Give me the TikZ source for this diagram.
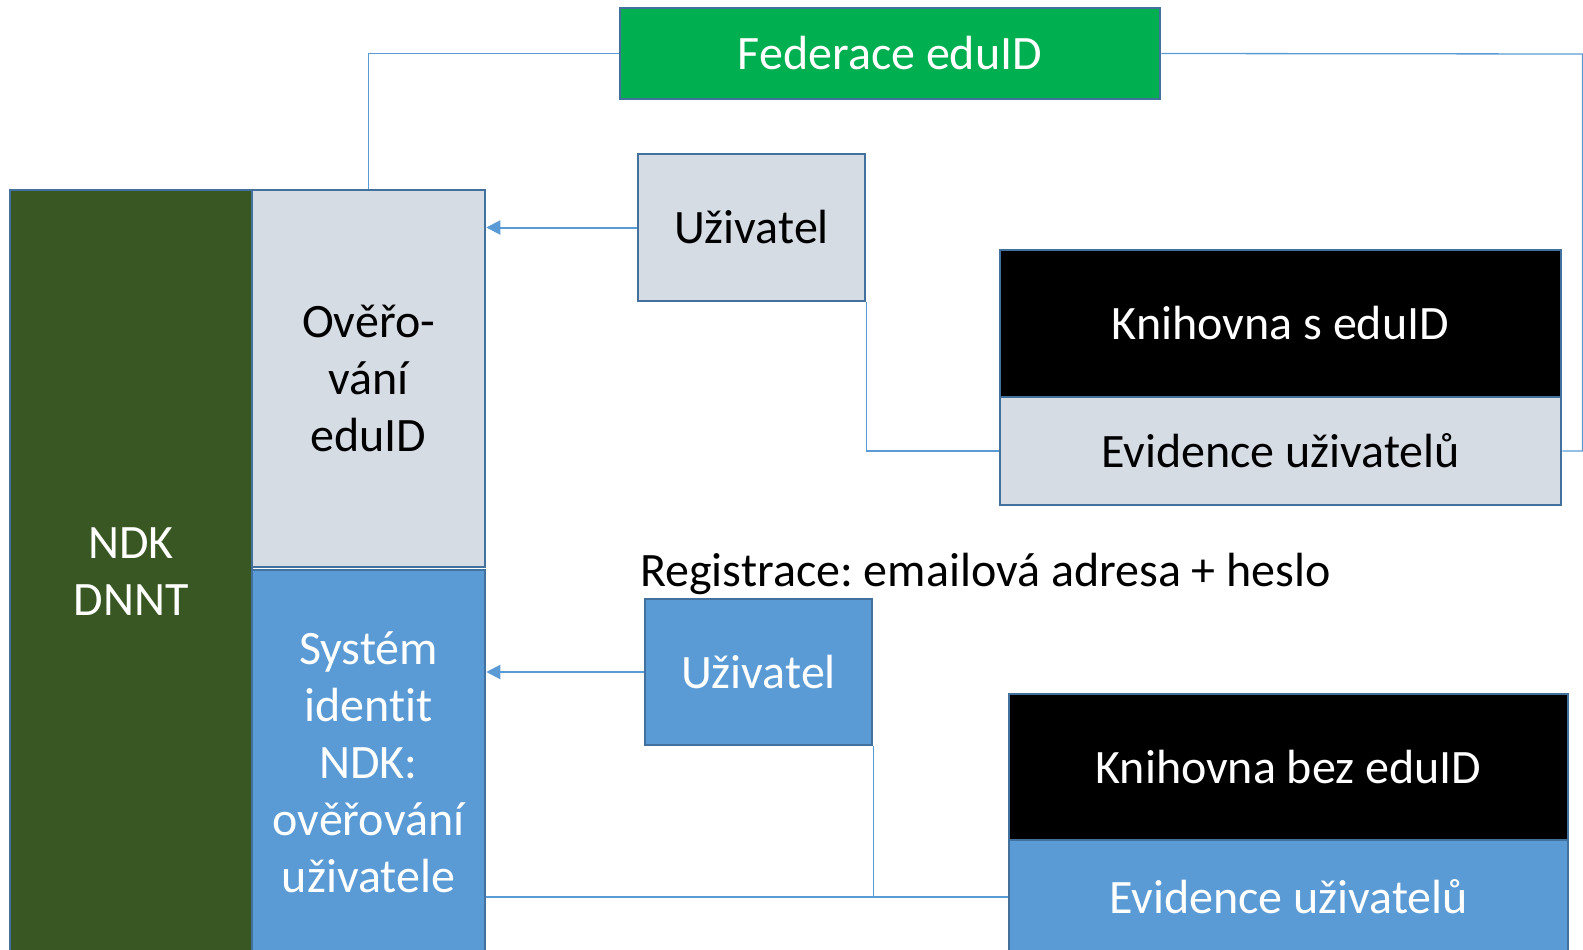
\documentclass[tikz,border=0pt]{standalone}
\usepackage{fontspec}
\setmainfont{Carlito}[Ligatures=NoCommon]
\frenchspacing
\usetikzlibrary{arrows.meta}
\definecolor{edugreen}{HTML}{00B050}
\definecolor{ndkgreen}{HTML}{385723}
\definecolor{boxgray}{HTML}{D6DCE4}
\definecolor{boxblue}{HTML}{5B9BD5}
\definecolor{boxline}{HTML}{41719C}
\begin{document}
\begin{tikzpicture}[x=1pt,y=-1pt]
		\tikzset{box/.style = {draw=boxline,line width=2.5pt,inner sep=0pt,align=center,
			font=\fontsize{48}{57}\selectfont}}
		\tikzset{edge/.style = {draw=boxblue,line width=1.3pt}}
		\tikzset{arrowedge/.style = {edge,line width=2pt,->,> = {Triangle[length=14pt,width=14pt]}}}
		\useasboundingbox (0,0) rectangle (1583,950);
		% left column
		\node[box,fill=ndkgreen,text=white,minimum width=242pt,minimum height=764pt] (ndk) at (131,572) {NDK\\DNNT};
		\node[box,fill=boxgray,minimum width=233pt,minimum height=377pt] (over) at (368.5,378.5) {Ověřo-\\vání\\eduID};
		\node[box,fill=boxblue,text=white,minimum width=233pt,minimum height=384pt] (sys) at (368.5,762) {Systém\\identit\\NDK:\\ověřování\\uživatele};
		% federation
		\node[box,fill=edugreen,text=white,minimum width=540pt,minimum height=91pt] (fed) at (890,53.5) {Federace eduID};
		% library with eduID
		\node[box,fill=boxgray,minimum width=227pt,minimum height=147pt] (uz1) at (751.5,227.5) {Uživatel};
		\node[box,fill=black,text=white,minimum width=561pt,minimum height=147pt] (kn1) at (1280.5,323.5) {Knihovna s eduID};
		\node[box,fill=boxgray,minimum width=561pt,minimum height=108pt] (ev1) at (1280.5,451) {Evidence uživatelů};
		% library without eduID
		\node[font=\fontsize{48}{57}\selectfont,anchor=west,inner sep=0pt] (reg) at (640,574) {Registrace: emailová adresa + heslo};
		\node[box,fill=boxblue,text=white,minimum width=227pt,minimum height=146pt] (uz2) at (758.5,672) {Uživatel};
		\node[box,fill=black,text=white,minimum width=559pt,minimum height=146pt] (kn2) at (1288.5,767) {Knihovna bez eduID};
		\node[box,fill=boxblue,text=white,minimum width=559pt,minimum height=114pt] (ev2) at (1288.5,897) {Evidence uživatelů};
		\coordinate (rt) at (1582.5,54);
		% connectors
		\path[edge] (fed.west) -| (over.north);
		\path[edge] (fed.east) -- (rt) |- (ev1.east);
		\path[edge] (uz1.south east) |- (ev1.west);
		\path[edge] (uz2.south east) |- (ev2.west);
		\path[edge] (sys.east |- ev2.west) -- (ev2.west);
		\path[arrowedge] (uz1.west) -- (over.east |- uz1.west);
		\path[arrowedge] (uz2.west) -- (sys.east |- uz2.west);
	\end{tikzpicture}
\end{document}
